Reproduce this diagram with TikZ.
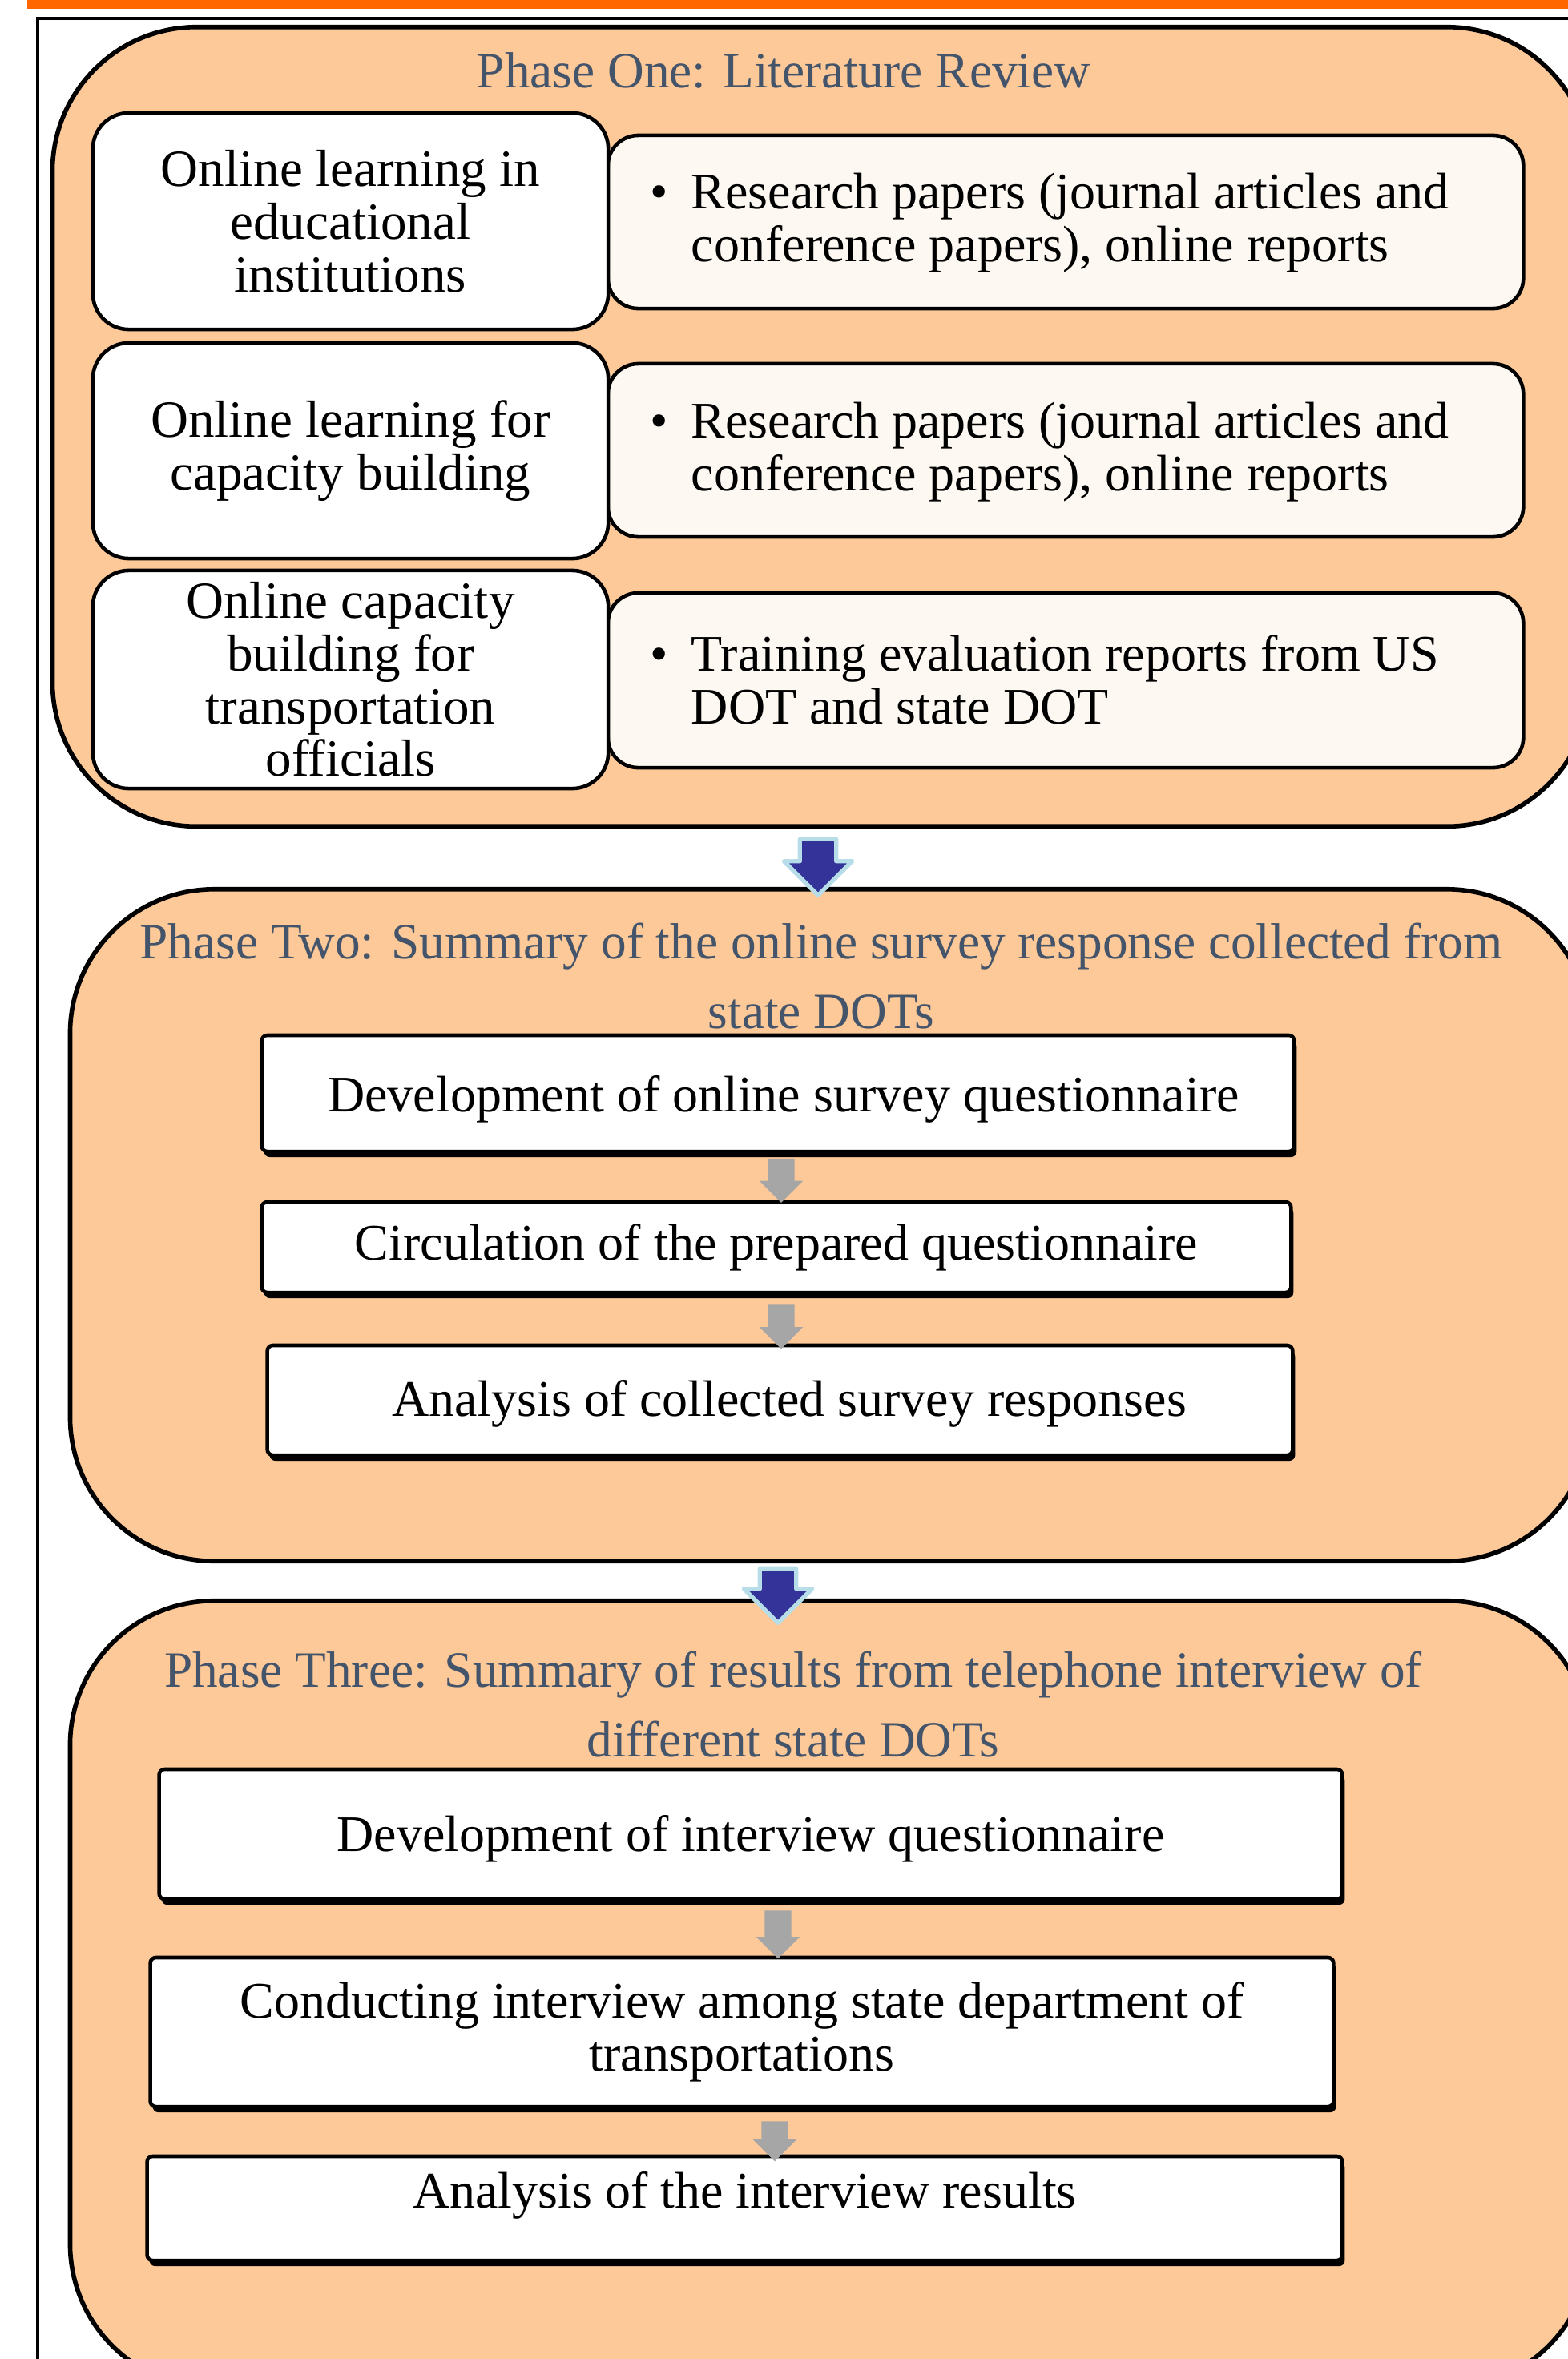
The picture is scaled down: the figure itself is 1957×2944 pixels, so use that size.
\documentclass[tikz,border=0pt]{standalone}
\usepackage{fontspec}
\setmainfont{Liberation Serif}
\usetikzlibrary{shapes.arrows,shadows}

\definecolor{phasefill}{HTML}{FDC998}
\definecolor{notefill}{HTML}{FDF8F2}
\definecolor{titleblue}{HTML}{44546A}
\definecolor{topbar}{HTML}{FF6600}
\definecolor{arrowblue}{HTML}{333399}
\definecolor{arrowrim}{HTML}{B7DEE8}
\definecolor{arrowgray}{HTML}{A6A6A6}

\tikzset{
  phase/.style={draw,line width=1.6pt,fill=phasefill,rounded corners=1.8cm,inner sep=0pt},
  phasetitle/.style={text=titleblue,align=center,font=\fontsize{18}{25}\selectfont},
  topic/.style={draw,line width=1.3pt,fill=white,rounded corners=0.45cm,align=center,inner sep=0pt,font=\fontsize{18.5}{18.7}\selectfont},
  source/.style={draw,line width=1.3pt,fill=notefill,rounded corners=0.38cm,inner sep=0pt},
  sourcetext/.style={anchor=west,align=left,inner sep=0pt,font=\fontsize{18.2}{18.7}\selectfont},
  stepbox/.style={draw,line width=1.3pt,fill=white,rounded corners=2pt,align=center,inner sep=0pt,font=\fontsize{18.2}{18.7}\selectfont,
    drop shadow={shadow xshift=0.03cm,shadow yshift=-0.07cm,fill=black,opacity=1}},
  steptext/.style={inner sep=0pt,font=\fontsize{18.2}{18.7}\selectfont},
  phasearrow/.style={single arrow,shape border rotate=270,fill=arrowblue,draw=arrowrim,line width=1.5pt,line join=round,
    inner sep=0.2cm,minimum width=0.8cm,single arrow head extend=0.2cm},
  steparrow/.style={single arrow,shape border rotate=270,fill=arrowgray,inner sep=0.16cm,minimum width=0.53cm,
    single arrow head extend=0.105cm}
}

\newcommand{\srcline}[1]{\textbullet\hspace{0.45em}#1}
\newcommand{\srcnext}[1]{\phantom{\textbullet}\hspace{0.45em}#1}

\begin{document}
\begin{tikzpicture}[x=0.01cm,y=-0.01cm]
\useasboundingbox (0,0) rectangle (1957,2944);
\clip (0,0) rectangle (1957,2944);

\fill[topbar] (34,0) rectangle (2000,11);
\draw[line width=1pt] (47,23) rectangle (2100,3100);

\node[phase,minimum width=19.19cm,minimum height=9.97cm] (one) at (1025.5,532.5) {};
\node[phasetitle] (onetitle) at (978,88) {Phase One: Literature Review};

\node[source,minimum width=11.42cm,minimum height=2.16cm] (src1) at (1330,277) {};
\node[source,minimum width=11.42cm,minimum height=2.16cm] (src2) at (1330,562) {};
\node[source,minimum width=11.42cm,minimum height=2.18cm] (src3) at (1330,849) {};
\node[sourcetext] (src1text) at (811,278) {\srcline{Research papers (journal articles and}\\\srcnext{conference papers), online reports}};
\node[sourcetext] (src2text) at (811,564) {\srcline{Research papers (journal articles and}\\\srcnext{conference papers), online reports}};
\node[sourcetext] (src3text) at (811,848) {\srcline{Training evaluation reports from US}\\\srcnext{DOT and state DOT}};

\node[topic,minimum width=6.43cm,minimum height=2.70cm] (topic1) at (437.5,276) {Online learning in\\educational\\institutions};
\node[topic,minimum width=6.43cm,minimum height=2.69cm] (topic2) at (437.5,562.5) {Online learning for\\capacity building};
\node[topic,minimum width=6.43cm,minimum height=2.72cm] (topic3) at (437.5,848) {Online capacity\\building for\\transportation\\officials};

\node[phase,minimum width=18.97cm,minimum height=8.38cm] (two) at (1036.5,1529) {};
\node[phasetitle] (twotitle) at (1025,1218) {Phase Two: Summary of the online survey response collected from\\state DOTs};

\node[stepbox,minimum width=12.88cm,minimum height=1.45cm] (survey1) at (971,1364.5) {};
\node[steptext] (survey1text) at (978,1372) {Development of online survey questionnaire};
\node[stepbox,minimum width=12.84cm,minimum height=1.13cm] (survey2) at (969,1556.5) {Circulation of the prepared questionnaire};
\node[stepbox,minimum width=12.79cm,minimum height=1.37cm] (survey3) at (973.5,1747.5) {};
\node[steptext] (survey3text) at (985,1752) {Analysis of collected survey responses};
\node[steparrow,minimum height=0.55cm] (sa1) at (975,1465) {};
\node[steparrow,minimum height=0.56cm] (sa2) at (975,1647) {};

\node[phase,minimum width=18.97cm,minimum height=9.82cm] (three) at (1036.5,2489) {};
\node[phasetitle] (threetitle) at (990,2127) {Phase Three: Summary of results from telephone interview of\\different state DOTs};

\node[stepbox,minimum width=14.76cm,minimum height=1.62cm] (interview1) at (937,2289) {};
\node[steptext] (interview1text) at (937,2295) {Development of interview questionnaire};
\node[stepbox,minimum width=14.76cm,minimum height=1.86cm] (interview2) at (926,2536) {Conducting interview among state department of\\transportations};
\node[stepbox,minimum width=14.91cm,minimum height=1.30cm] (interview3) at (929.5,2756) {};
\node[steptext] (interview3text) at (929.5,2740) {Analysis of the interview results};
\node[steparrow,minimum height=0.60cm] (ia1) at (971,2406) {};
\node[steparrow,minimum height=0.50cm] (ia2) at (967,2664) {};

\node[phasearrow,minimum height=0.70cm] (onetwo) at (1021,1071) {};
\node[phasearrow,minimum height=0.60cm] (twothree) at (971,1980) {};
\end{tikzpicture}
\end{document}
